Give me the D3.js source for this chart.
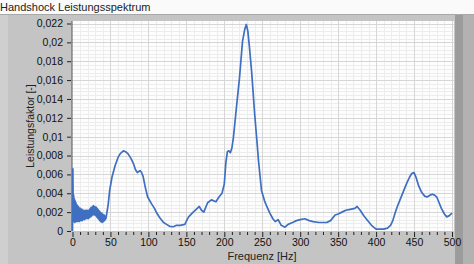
<!DOCTYPE html>
<html>
<head>
<meta charset="utf-8">
<script src="https://cdn.jsdelivr.net/npm/d3@7"></script>
<style>
	body { margin: 0; background: #fff; }
	svg { display: block; font-family: "Liberation Sans", Arial, sans-serif; }
</style>
</head>
<body>
<div class="plot"></div>
<script>

const title = 'Handshock Leistungsspektrum';
const xTitle = 'Frequenz [Hz]';
const yTitle = 'Leistungsfaktor [-]';

// noisy low frequency part (0..44 Hz, 0.5 Hz steps)
const noiseHz = [0,0.5,1,1.5,2,2.5,3,3.5,4,4.5,5,5.5,6,6.5,7,7.5,8,8.5,9,9.5,10,10.5,11,11.5,12,12.5,13,13.5,14,14.5,15,15.5,16,16.5,17,17.5,18,18.5,19,19.5,20,20.5,21,21.5,22,22.5,23,23.5,24,24.5,25,25.5,26,26.5,27,27.5,28,28.5,29,29.5,30,30.5,31,31.5,32,32.5,33,33.5,34,34.5,35,35.5,36,36.5,37,37.5,38,38.5,39,39.5,40,40.5,41,41.5,42,42.5,43,43.5,44];
const noisePower = [0,0.0066,0.0010,0.0038,0.0012,0.0034,0.0009,0.0032,0.0011,0.0030,0.0010,0.0028,0.0011,0.0027,0.0010,0.0026,0.0011,0.0025,0.0010,0.0024,0.0012,0.0024,0.0011,0.0023,0.0012,0.0023,0.0011,0.0022,0.0012,0.0022,0.0013,0.0021,0.0012,0.0022,0.0013,0.0021,0.0014,0.0022,0.0013,0.0022,0.0014,0.0021,0.0013,0.0022,0.0014,0.0023,0.0015,0.0024,0.0015,0.0025,0.0016,0.0025,0.0017,0.0026,0.0017,0.0027,0.0018,0.0026,0.0017,0.0026,0.0017,0.0025,0.0016,0.0025,0.0015,0.0024,0.0014,0.0023,0.0013,0.0022,0.0012,0.0021,0.0011,0.0020,0.0010,0.0019,0.0010,0.0019,0.0009,0.0018,0.0010,0.0017,0.0010,0.0017,0.0011,0.0016,0.0012,0.0015,0.0013];

// rest of the spectrum
const freqHz = [45,47,49,52,56,60,63,67,70,73,77,80,83,85.5,89,91,93,96,99,104,108,111,115,120,124,128,133,137,142,148,151,153,159,163,167,170,173,178,183,189,193,197,200,202,204,206,208,210,212,216,220,224,227,229,231,233,236,240,243,245,249,253,256,260,264,267,271,275,280,284,290,295,300,306,312,317,325,335,340,346,350,355,360,366,372,375,379,384,388,394,400,405,410,415,419,422,425,428,432,436,440,444,447,450,453,456,460,464,467,471,474,477,480,483,486,490,493,496,500];
const power = [0.0018,0.0028,0.0043,0.0057,0.0069,0.0078,0.0082,0.0085,0.0084,0.0082,0.0077,0.0072,0.0065,0.0062,0.0064,0.0062,0.0058,0.0046,0.0036,0.0029,0.0024,0.0019,0.0014,0.0009,0.0007,0.0005,0.00045,0.0006,0.0006,0.0007,0.0012,0.0015,0.0020,0.0023,0.0026,0.0022,0.0020,0.0030,0.0033,0.0031,0.0036,0.0040,0.0050,0.0072,0.0084,0.0085,0.0083,0.0088,0.0099,0.0131,0.0162,0.0201,0.0214,0.0219,0.0212,0.0196,0.0169,0.0124,0.0095,0.0075,0.0043,0.0032,0.0026,0.0019,0.0013,0.0010,0.0012,0.0006,0.0004,0.0007,0.0009,0.0011,0.0012,0.0013,0.0011,0.0010,0.0009,0.0009,0.0011,0.0017,0.0018,0.0020,0.0022,0.0023,0.0024,0.0026,0.0022,0.0016,0.0012,0.0006,0.0002,0.0002,0.0002,0.0003,0.0006,0.0011,0.0019,0.0026,0.0034,0.0042,0.0050,0.0057,0.0061,0.0062,0.0056,0.0048,0.0041,0.0037,0.0036,0.0038,0.0039,0.0038,0.0036,0.0030,0.0024,0.0018,0.0015,0.0016,0.0019];

const xTicks = [0,50,100,150,200,250,300,350,400,450,500];
const yTicks = [0,0.002,0.004,0.006,0.008,0.01,0.012,0.014,0.016,0.018,0.02,0.022];

const w = 474, h = 264;
const root = d3.select('.plot').node();

const svg = d3.select(root).append('svg')
	.attr('width', w)
	.attr('height', h);

// Frame / panel
svg.append('rect').attr('x', 0).attr('y', 0).attr('width', w).attr('height', h).attr('fill', '#fafafa');
svg.append('rect').attr('x', 0).attr('y', 14).attr('width', w).attr('height', h - 14).attr('fill', '#c4c4c4');
svg.append('rect').attr('x', 0).attr('y', 14).attr('width', 8).attr('height', h - 14).attr('fill', '#cfcfcf');
svg.append('rect').attr('x', 455).attr('y', 14).attr('width', 8).attr('height', h - 14).attr('fill', '#9c9c9c');
svg.append('rect').attr('x', 463).attr('y', 14).attr('width', 11).attr('height', h - 14).attr('fill', '#b2b2b2');
svg.append('line').attr('x1', 0).attr('x2', w).attr('y1', 14.5).attr('y2', 14.5).attr('stroke', '#a8a8a8');

svg.append('text')
	.attr('x', 0).attr('y', 11)
	.attr('font-size', 11)
	.attr('fill', '#222')
	.text(title);

const x = d3.scaleLinear().domain([0, 500]).range([72.5, 452]);
const y = d3.scaleLinear().domain([0, 0.022]).range([231, 23.5]);

// Plot area
svg.append('rect')
	.attr('x', 72).attr('y', 21)
	.attr('width', 382).attr('height', 210)
	.attr('fill', '#fdfdfd');

// Grid: minor then major
const grid = svg.append('g');
const minorX = d3.range(0, 501, 10).filter(v => v % 50 !== 0);
const minorY = d3.range(1, 56).map(i => i * 0.0004).filter((v, i) => (i + 1) % 5 !== 0);
grid.selectAll('.mx').data(minorX).enter().append('line')
	.attr('x1', d => Math.round(x(d)) + 0.5).attr('x2', d => Math.round(x(d)) + 0.5)
	.attr('y1', 21).attr('y2', 231).attr('stroke', '#ededed');
grid.selectAll('.my').data(minorY).enter().append('line')
	.attr('y1', d => Math.round(y(d)) + 0.5).attr('y2', d => Math.round(y(d)) + 0.5)
	.attr('x1', 72).attr('x2', 454).attr('stroke', '#ededed');
grid.selectAll('.gx').data(xTicks.slice(1)).enter().append('line')
	.attr('x1', d => Math.round(x(d)) + 0.5).attr('x2', d => Math.round(x(d)) + 0.5)
	.attr('y1', 21).attr('y2', 231).attr('stroke', '#d6d6d6');
grid.selectAll('.gy').data(yTicks.slice(1)).enter().append('line')
	.attr('y1', d => Math.round(y(d)) + 0.5).attr('y2', d => Math.round(y(d)) + 0.5)
	.attr('x1', 72).attr('x2', 454).attr('stroke', '#d6d6d6');

const fmt = d => d3.format('')(+d.toFixed(3)).replace('.', ',');

// Axes
svg.append('g')
	.attr('transform', 'translate(0,232)')
	.call(d3.axisBottom(x).tickValues(xTicks).tickSize(5).tickPadding(2).tickFormat(d3.format('d')));
svg.append('g')
	.attr('transform', 'translate(0,232)')
	.call(d3.axisBottom(x).tickValues(minorX).tickSize(3).tickFormat(''));
svg.append('g')
	.attr('transform', 'translate(71,0)')
	.call(d3.axisLeft(y).tickValues(yTicks).tickSize(4).tickPadding(4).tickFormat(fmt));

svg.selectAll('.domain').remove();
svg.selectAll('.tick line').attr('stroke', '#222');
svg.selectAll('.tick text').attr('font-size', 10.5).attr('fill', '#111')
	.attr('font-family', '"Liberation Sans", Arial, sans-serif');

svg.append('line')
	.attr('x1', 72).attr('x2', 72).attr('y1', 21).attr('y2', 231)
	.attr('stroke', '#555');

// Titles
svg.append('text')
	.attr('x', 262).attr('y', 260)
	.attr('text-anchor', 'middle')
	.attr('font-size', 11)
	.attr('fill', '#222')
	.text(xTitle);
svg.append('text')
	.attr('transform', 'translate(34,126) rotate(-90)')
	.attr('text-anchor', 'middle')
	.attr('font-size', 10.5)
	.attr('fill', '#222')
	.text(yTitle);

// Spectrum line
const points = noiseHz.map((f, i) => [f, noisePower[i]])
	.concat(freqHz.map((f, i) => [f, power[i]]));
const line = d3.line().x(d => x(d[0])).y(d => y(d[1]));

svg.append('path')
	.datum(points)
	.attr('d', line)
	.attr('fill', 'none')
	.attr('stroke', '#3f6fc0')
	.attr('stroke-width', 1.7)
	.attr('stroke-linejoin', 'round');

</script>
</body>
</html>
